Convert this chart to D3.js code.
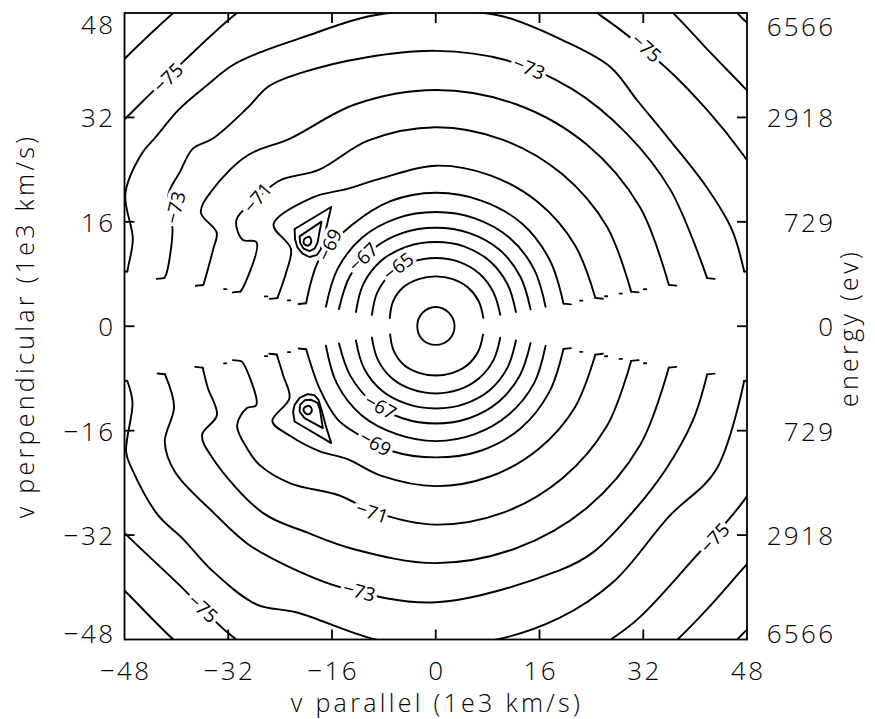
<!DOCTYPE html>
<html>
<head>
<meta charset="utf-8">
<script src="https://cdn.jsdelivr.net/npm/d3@7"></script>
<style>
  body { margin: 0; background: #fff; }
  text { font-family: "Open Sans", "DejaVu Sans", sans-serif; font-weight: 300; fill: #000; }
</style>
</head>
<body>
<svg id="chart" width="875" height="719"></svg>
<script>
// ---- axes ----
const xTicks = [-48, -32, -16, 0, 16, 32, 48];
const yTicks = [-48, -32, -16, 0, 16, 32, 48];
const energyLabels = ["6566", "2918", "729", "0", "729", "2918", "6566"];

// ---- contour arcs of log f, as [pitch angle (deg), speed (1e3 km/s)] ----
const upperArcs = [
  [-64, [[10,7.45],[30,7.65],[50,7.75],[70,7.7],[90,7.65],[110,7.7],[130,7.8],[150,7.6],[170,7.2]]],
  [-65, [[10,10.1],[30,10.3],[50,10.5],[70,10.5],[90,10.45],[110,10.5],[130,10.6],[150,10.4],[170,10.0]]],
  [-66, [[10,12.55],[30,12.8],[50,13.0],[70,13.0],[90,12.9],[110,13.0],[130,13.1],[150,12.9],[170,12.5]]],
  [-67, [[10,14.85],[30,15.1],[50,15.3],[70,15.2],[90,15.1],[110,15.2],[130,15.3],[150,15.3],[170,15.15]]],
  [-68, [[10,17.2],[30,17.5],[50,17.7],[70,17.6],[90,17.5],[110,17.6],[130,17.7],[150,17.5],[170,17.2]]],
  [-69, [[10,20.0],[30,20.3],[50,20.6],[70,20.5],[90,20.45],[110,20.4],[130,20.2],[150,20.7],[170,20.3]]],
  [-70, [[10,25.0],[30,24.8],[50,24.7],[70,24.6],[90,24.6],[111,24.2],[123,25.1],[134,27.4],[148,29.5],[152,25.3],[160,24.5],[170,24.8]]],
  [-71, [[10,30.6],[30,30.5],[50,30.4],[70,30.4],[90,30.5],[110,30.3],[127,30.0],[137,32.8],[144,33.7],[152,34.8],[156,32.6],[155,30.5],[168,30.2],[170,30.6]]],
  [-72, [[10,36.5],[30,36.4],[50,36.3],[70,36.2],[90,36.2],[110,36.2],[128,36.5],[138,39.1],[149,40.3],[154.3,40.2],[157,36.7],[161,36.3],[168.6,36.3],[170,36.4]]],
  [-73, [[10,42.5],[30,41.8],[45,41.7],[60,42.0],[75,42.2],[90,42.2],[105,42.6],[118,44.0],[125,44.9],[131,44.3],[140,44.8],[144,46.3],[149,46.0],[154,45.9],[160,43.2],[169,42.3],[170,42.5]]],
  [-74, [[10,48.3],[18,48.0],[27,46.9],[39,46.0],[48,46.5],[56,48.0],[66,48.0],[78,48.6],[90,48.4],[102,48.6],[115,48.8],[122,49.8],[128,50.8],[134,51.1],[140,51.7],[146,52.0],[150,52.5],[157,52.0],[164,48.6],[169,48.3],[170,48.3]]],
  [-75, [[15,57],[29,54.2],[38,53.4],[48,53.2],[62,54.0],[75,56],[90,58],[105,58],[116,57.5],[123,56.9],[134,56.2],[146,57.4],[155,60]]],
  [-76, [[28,62],[37.7,60.0],[45,59.6],[52.2,60.3],[62,62],[90,64],[118,64],[129.8,62.8],[139.4,63.1],[150,65]]],
  [-77, [[40,67.5],[45,66.8],[50,67.5]]]
];

const lowerArcs = [
  [-64, [[-10,7.4],[-30,7.6],[-50,7.7],[-70,7.6],[-90,7.55],[-110,7.6],[-130,7.7],[-150,7.5],[-170,7.15]]],
  [-65, [[-10,10.1],[-30,10.3],[-50,10.4],[-70,10.35],[-90,10.3],[-110,10.35],[-130,10.45],[-150,10.3],[-170,10.0]]],
  [-66, [[-10,12.55],[-30,12.75],[-50,12.85],[-70,12.7],[-90,12.6],[-110,12.7],[-130,12.9],[-150,12.8],[-170,12.5]]],
  [-67, [[-10,14.85],[-30,15.0],[-50,15.1],[-70,15.0],[-90,14.9],[-110,15.0],[-130,15.2],[-150,15.2],[-170,15.15]]],
  [-68, [[-10,17.2],[-30,17.5],[-50,17.6],[-70,17.6],[-90,17.6],[-110,17.6],[-130,17.8],[-150,17.6],[-170,17.2]]],
  [-69, [[-10,20.0],[-30,20.2],[-50,20.4],[-70,20.3],[-90,20.1],[-110,20.3],[-130,20.6],[-137,20.8],[-152,20.3],[-170,20.3]]],
  [-70, [[-10,25.0],[-30,24.8],[-50,24.6],[-70,24.5],[-90,24.5],[-110,24.4],[-124,24.5],[-133,26.2],[-143,28.0],[-150,29.1],[-154,25.1],[-162,24.7],[-170,24.9]]],
  [-71, [[-10,30.6],[-30,30.5],[-50,30.4],[-70,30.4],[-90,30.4],[-108,30.0],[-120,29.9],[-133,32.9],[-142,34.5],[-147,34.6],[-153.6,34.2],[-156.7,31.7],[-156.4,30.2],[-169.5,30.3],[-170,30.6]]],
  [-72, [[-10,36.5],[-30,36.4],[-50,36.3],[-70,36.2],[-90,36.3],[-110,36.4],[-122,37.3],[-133,39.1],[-149.5,39.9],[-155.2,39.7],[-158,36.4],[-165,36.4],[-170,36.5]]],
  [-73, [[-10,42.5],[-20,42.2],[-32,41.7],[-45,41.7],[-55,42.3],[-63,42.0],[-90,42.3],[-110,42.6],[-122,43.3],[-131,44.2],[-140,44.6],[-151,46.0],[-157,45.4],[-163,42.2],[-170,42.4]]],
  [-74, [[-10,48.3],[-27,48.5],[-39,46.3],[-55,47.8],[-67,48.6],[-80,48.9],[-90,48.4],[-100,48.9],[-116,48.8],[-123,50.8],[-133,50.9],[-140,50.8],[-146,51.7],[-155,51.7],[-158,51.5],[-166,48.2],[-170,48.3]]],
  [-75, [[-15,57],[-29.4,54.5],[-42,53.4],[-55,54.6],[-61,55.1],[-75,57],[-90,58],[-105,58],[-116,57.5],[-124,56.9],[-135,56.0],[-146.5,57.5],[-155,60]]],
  [-76, [[-28,62],[-38,60.2],[-45,60.2],[-52.5,60.8],[-62,62],[-90,64],[-118,64],[-129.8,62.8],[-139.8,62.8],[-150,65]]],
  [-77, [[-40,67.5],[-45,66.8],[-50,67.5]]]
];

// closed core contour, polar
const coreRing = [[0,2.9],[45,2.9],[90,2.95],[135,2.9],[180,2.85],[225,2.9],[270,2.85],[315,2.9]];

// closed local-maximum loops, [v parallel, v perpendicular]
const upperBumpOuter = [[-16.12,18.28],[-21.77,14.91],[-21.69,13.27],[-21.31,12.04],[-20.54,11.12],[-19.46,10.61],[-18.38,10.89],[-17.77,11.73],[-17.31,13.27],[-16.77,15.57]];
const upperBumpMid   = [[-17.62,16.03],[-21.0,13.77],[-20.92,12.81],[-20.38,11.89],[-19.46,11.5],[-18.69,11.89],[-18.23,12.81],[-17.92,14.49]];
const upperBumpCore  = [[-20.3,13.3],[-19.5,13.7],[-19.2,13.0],[-19.6,12.4],[-20.3,12.6]];
const lowerBumpOuter = [[-16.12,-17.91],[-21.77,-14.6],[-22.0,-13.11],[-21.77,-12.04],[-21.0,-10.97],[-19.77,-10.4],[-18.69,-10.58],[-18.08,-11.27],[-17.62,-12.81],[-17.0,-15.11]];
const lowerBumpMid   = [[-17.42,-15.61],[-20.23,-14.08],[-21.0,-13.07],[-20.92,-12.04],[-20.23,-11.35],[-19.2,-11.27],[-18.23,-11.73],[-17.85,-12.81]];
const lowerBumpCore  = [[-20.3,-12.5],[-19.5,-12.2],[-19.1,-12.9],[-19.6,-13.5],[-20.3,-13.1]];

// small fragments along the edge of the empty pitch-angle wedge (speed)
const rightGapDots = [22.6, 26.5, 28.8, 32.6];
const leftGapDots = [22.8, 26.4, 32.8];
const stubLevels = [-69, -70, -71, -72, -73, -74];

// contour labels
const labelText  = ["−75","−73","−75","−71","−73","−69","−67","−65","−67","−69","−71","−73","−75","−75"];
const labelPos   = [[-41.3,38.1],[14.4,39.6],[32.5,42.7],[-27.5,19.7],[-40.2,18.2],[-16.4,12.5],[-11.2,10.6],[-5.8,9.2],[-8.5,-12.3],[-9.3,-17.9],[-9.8,-28.5],[-11.8,-40.6],[-35.9,-43.2],[43.0,-32.4]];
const labelAngle = [-44, 22, 42, -50, -76, -65, -43, -38, 29, 30, 18, 15, 42, -47];

// ---- drawing ----
const svg = d3.select("#chart");
const x = d3.scaleLinear().domain([-48, 48]).range([124.5, 747]);
const y = d3.scaleLinear().domain([-48, 48]).range([639.5, 13]);
const rad = Math.PI / 180;
const toXY = ([a, r]) => [r * Math.cos(a * rad), r * Math.sin(a * rad)];

svg.append("defs").append("clipPath").attr("id", "plotClip")
  .append("rect")
  .attr("x", x(-48)).attr("y", y(48))
  .attr("width", x(48) - x(-48)).attr("height", y(-48) - y(48));

const plot = svg.append("g").attr("clip-path", "url(#plotClip)")
  .attr("fill", "none").attr("stroke", "#000").attr("stroke-width", 1.9)
  .attr("stroke-linejoin", "round").attr("stroke-linecap", "round");

const openLine = d3.line().x(d => x(d[0])).y(d => y(d[1])).curve(d3.curveCatmullRom.alpha(0.5));
const closedLine = d3.line().x(d => x(d[0])).y(d => y(d[1])).curve(d3.curveCatmullRomClosed.alpha(0.5));
const polygon = d3.line().x(d => x(d[0])).y(d => y(d[1])).curve(d3.curveLinearClosed);
const straight = d3.line().x(d => x(d[0])).y(d => y(d[1]));

[...upperArcs, ...lowerArcs].forEach(([level, pts]) => {
  const xy = pts.map(toXY);
  plot.append("path").attr("class", "contour").attr("d", openLine(xy));
  if (stubLevels.includes(level)) {
    [xy[0], xy[xy.length - 1]].forEach(p => {
      const s = Math.sign(p[0]);
      plot.append("path").attr("d", straight([p, [p[0] + s * 1.15, p[1] - Math.sign(p[1]) * 0.12]]));
    });
  }
});

plot.append("path").attr("d", closedLine(coreRing.map(toXY)));
[upperBumpOuter, upperBumpMid, lowerBumpOuter, lowerBumpMid]
  .forEach(loop => plot.append("path").attr("d", polygon(loop)));
[upperBumpCore, lowerBumpCore]
  .forEach(loop => plot.append("path").attr("d", closedLine(loop)));

// wedge-edge fragments
const dots = [];
rightGapDots.forEach(r => { dots.push([10, r]); dots.push([-10, r]); });
leftGapDots.forEach(r => { dots.push([170, r]); dots.push([-170, r]); });
dots.forEach(d => {
  const p = toXY(d);
  const s = Math.sign(p[0]);
  plot.append("path").attr("d", straight([p, [p[0] + s * 0.35, p[1]]]));
});

// contour labels with a gap in the line
const labels = svg.append("g");
labelText.forEach((t, i) => {
  const [vx, vy] = labelPos[i];
  labels.append("text")
    .attr("transform", `translate(${x(vx)},${y(vy)}) rotate(${labelAngle[i]})`)
    .attr("text-anchor", "middle").attr("dominant-baseline", "central")
    .attr("font-size", 19)
    .attr("stroke", "#fff").attr("stroke-width", 7).attr("paint-order", "stroke")
    .style("font-weight", 400)
    .text(t);
});

// frame and ticks
const axes = svg.append("g").attr("stroke", "#000").attr("stroke-width", 1.8).attr("fill", "none");
axes.append("rect").attr("x", x(-48)).attr("y", y(48))
  .attr("width", x(48) - x(-48)).attr("height", y(-48) - y(48));
const tl = 10;
xTicks.slice(1, -1).forEach(t => {
  axes.append("line").attr("x1", x(t)).attr("x2", x(t)).attr("y1", y(-48)).attr("y2", y(-48) - tl);
  axes.append("line").attr("x1", x(t)).attr("x2", x(t)).attr("y1", y(48)).attr("y2", y(48) + tl);
});
yTicks.slice(1, -1).forEach(t => {
  axes.append("line").attr("x1", x(-48)).attr("x2", x(-48) + tl).attr("y1", y(t)).attr("y2", y(t));
  axes.append("line").attr("x1", x(48)).attr("x2", x(48) - tl).attr("y1", y(t)).attr("y2", y(t));
});

const fmt = v => (v < 0 ? "−" + Math.abs(v) : String(v));
const tickFont = 26, tickSpacing = 2.3;
// end labels of the vertical axes sit a little inside the frame
const yLabelPos = t => (t === 48 ? 24 : t === -48 ? 633 : y(t));
xTicks.forEach(t => {
  svg.append("text").attr("x", x(t) + tickSpacing / 2).attr("y", 680).attr("text-anchor", "middle")
    .attr("font-size", tickFont).attr("letter-spacing", tickSpacing).text(fmt(t));
});
yTicks.forEach(t => {
  svg.append("text").attr("x", 113 + tickSpacing).attr("y", yLabelPos(t)).attr("text-anchor", "end")
    .attr("dominant-baseline", "central").attr("font-size", tickFont).attr("letter-spacing", tickSpacing).text(fmt(t));
});
yTicks.forEach((t, i) => {
  svg.append("text").attr("x", 833 + tickSpacing).attr("y", yLabelPos(t) + (t === 48 ? 2 : 0)).attr("text-anchor", "end")
    .attr("dominant-baseline", "central").attr("font-size", tickFont).attr("letter-spacing", tickSpacing).text(energyLabels[i]);
});

const titleSize = 25, titleSpacing = 3.3;
svg.append("text").attr("x", 437).attr("y", 712).attr("text-anchor", "middle")
  .attr("font-size", titleSize).attr("letter-spacing", titleSpacing).text("v parallel (1e3 km/s)");
svg.append("text").attr("transform", "translate(34,326) rotate(-90)").attr("text-anchor", "middle")
  .attr("font-size", titleSize).attr("letter-spacing", titleSpacing).text("v perpendicular (1e3 km/s)");
svg.append("text").attr("transform", "translate(858,328) rotate(-90)").attr("text-anchor", "middle")
  .attr("font-size", titleSize).attr("letter-spacing", titleSpacing).text("energy (ev)");
</script>
</body>
</html>
